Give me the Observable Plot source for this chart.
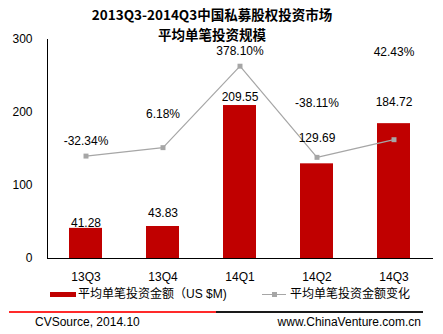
<!DOCTYPE html>
<html><head><meta charset="utf-8">
<script src="https://cdn.jsdelivr.net/npm/d3@7"></script>
<script src="https://cdn.jsdelivr.net/npm/@observablehq/plot@0.6"></script>
<style>
body{margin:0;background:#fff;}
#wrap{position:relative;width:443px;height:334px;overflow:hidden;font-family:"Liberation Sans","Noto Sans CJK SC",sans-serif;color:#000;}
.tl{position:absolute;left:0;width:424px;text-align:center;font-weight:bold;font-size:13.5px;line-height:19px;height:19px;font-family:"Noto Sans CJK SC",sans-serif;z-index:2;white-space:nowrap;}
#chart{position:absolute;left:0;top:0;}
.lg{position:absolute;font-size:12px;line-height:14px;white-space:nowrap;}
.sw{position:absolute;}
</style></head>
<body>
<div id="wrap">
  <div class="tl" id="t1" style="top:5px;"></div>
  <div class="tl" id="t2" style="top:24.5px;"></div>
  <div id="chart"></div>
  <div class="sw" style="left:50px;top:291.5px;width:26px;height:5px;background:#C00000"></div>
  <div class="lg" id="lg1" style="left:78px;top:287px;"></div>
  <div class="sw" style="left:262px;top:293.5px;width:24px;height:1px;background:#A6A6A6"></div>
  <div class="sw" style="left:271.5px;top:291.5px;width:5px;height:5px;background:#A6A6A6"></div>
  <div class="lg" id="lg2" style="left:290px;top:287px;"></div>
  <div class="sw" style="left:9px;top:311px;width:207px;height:1.5px;background:#FF2A2A"></div>
  <div class="sw" style="left:216px;top:311px;width:207px;height:1.5px;background:#1a1a1a"></div>
  <div class="lg" id="src" style="left:35px;top:315px;"></div>
  <div class="lg" id="web" style="right:22px;top:315px;"></div>
</div>
<script>
const titleLines = ["2013Q3-2014Q3中国私募股权投资市场", "平均单笔投资规模"];
const quarters = ["13Q3", "13Q4", "14Q1", "14Q2", "14Q3"];
const avgAmount = [41.28, 43.83, 209.55, 129.69, 184.72];
const pctChange = [-32.34, 6.18, 378.10, -38.11, 42.43];
const yTicks = [0, 100, 200, 300];
const pctAxisDomain = [-500, 500]; // hidden secondary axis
const legendLabels = ["平均单笔投资金额（US $M)", "平均单笔投资金额变化"];
const sourceText = "CVSource, 2014.10";
const webText = "www.ChinaVenture.com.cn";

// layout nudges (pixels) for the manually placed data labels
const barLabelDy = [-5, -13, -8, -26, -21];
const pctLabelDy = [-15, -33, -15, -54, -88];

document.getElementById("t1").textContent = titleLines[0];
document.getElementById("t2").textContent = titleLines[1];
document.getElementById("lg1").textContent = legendLabels[0];
document.getElementById("lg2").textContent = legendLabels[1];
document.getElementById("src").textContent = sourceText;
document.getElementById("web").textContent = webText;

const rows = quarters.map((q, i) => ({q, amount: avgAmount[i], pct: pctChange[i]}));
const toPrimary = d3.scaleLinear().domain(pctAxisDomain).range([0, 300]);
const pctY = d => toPrimary(d.pct);

const textOpts = {fontSize: 12, fill: "#000", fontFamily: "Liberation Sans"};

const marks = [
  Plot.axisY({ticks: yTicks, tickSize: 0, tickPadding: 15, label: null, fontSize: 12}),
  Plot.axisX({tickSize: 0, tickPadding: 14, label: null, fontSize: 12}),
  Plot.barY(rows, {x: "q", y: "amount", fill: "#C00000"}),
  Plot.frame({anchor: "left", stroke: "#000"}),
  Plot.ruleY([0], {stroke: "#000"}),
  Plot.line(rows, {x: "q", y: pctY, stroke: "#A6A6A6", strokeWidth: 1.2}),
  Plot.dot(rows, {x: "q", y: pctY, symbol: "square", r: 2.8, fill: "#A6A6A6", stroke: null})
];
rows.forEach((d, i) => {
  marks.push(Plot.text([d], {x: "q", y: "amount", text: r => r.amount.toFixed(2), dy: barLabelDy[i], ...textOpts}));
  marks.push(Plot.text([d], {x: "q", y: pctY, text: r => r.pct.toFixed(2) + "%", dy: pctLabelDy[i], ...textOpts}));
});

const chart = Plot.plot({
  width: 443,
  height: 285,
  marginLeft: 47,
  marginRight: 10,
  marginTop: 39,
  marginBottom: 27,
  style: {fontFamily: "Liberation Sans", fontSize: "12px", color: "#000", background: "transparent", overflow: "visible"},
  x: {domain: quarters, paddingInner: 0.57, paddingOuter: 0.285, label: null},
  y: {domain: [0, 300], label: null},
  marks
});
document.getElementById("chart").appendChild(chart);
</script>
</body></html>
